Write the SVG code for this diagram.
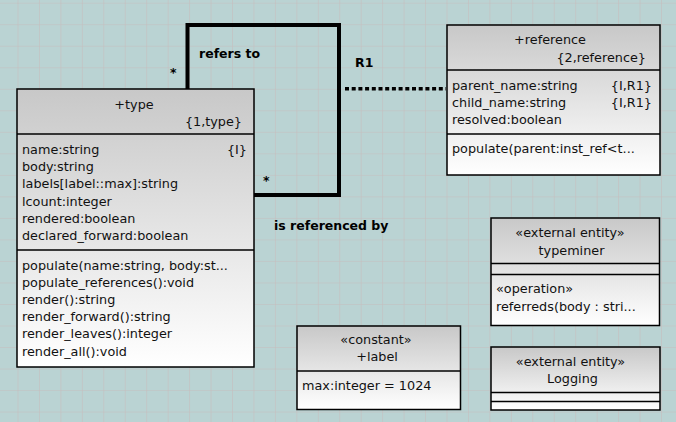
<svg xmlns="http://www.w3.org/2000/svg" width="676" height="422" viewBox="0 0 676 422">
<style>
text{font-family:"DejaVu Sans","Liberation Sans",sans-serif;font-size:12.8px;fill:#111}
.b{font-weight:bold;font-size:12.5px;fill:#000}
.m{text-anchor:middle}
.e{text-anchor:end}
.box{fill:url(#g);stroke:#000;stroke-width:1.5}
.div{stroke:#000;stroke-width:1.5}
.conn{fill:none;stroke:#000;stroke-width:4}
</style>
<defs>
<pattern id="grid" x="17.5" y="2.7" width="21.45" height="21.52" patternUnits="userSpaceOnUse">
<path d="M0 0H21.45M0 0V21.52" fill="none" stroke="#c6bebe" stroke-width="1.2"/>
</pattern>
<linearGradient id="g" x1="0" y1="0" x2="0" y2="1">
<stop offset="0" stop-color="#c8c8c8"/>
<stop offset="1" stop-color="#ffffff"/>
</linearGradient>
</defs>
<rect width="676" height="422" fill="#bad3d3"/>
<rect width="676" height="422" fill="url(#grid)"/>
<g id="connectors">
<polyline class="conn" points="187.5,89 187.5,25 339,25 339,195 254,195"/>
<line x1="345" y1="88.7" x2="446" y2="88.7" stroke="#000" stroke-width="3.5" stroke-dasharray="4 2.7"/>
<text class="b" x="199" y="58">refers to</text>
<text class="b" x="170" y="77">*</text>
<text class="b" x="355" y="67">R1</text>
<text class="b" x="263" y="185">*</text>
<text class="b" x="274" y="230">is referenced by</text>
</g>
<g id="type">
<rect class="box" x="17" y="89" width="237" height="278"/>
<line class="div" x1="17" y1="134" x2="254" y2="134"/>
<line class="div" x1="17" y1="250" x2="254" y2="250"/>
<text class="m" x="134" y="109">+type</text>
<text class="e" x="242" y="126">{1,type}</text>
<text x="22" y="153.5">name:string</text>
<text class="e" x="247" y="153.5">{I}</text>
<text x="22" y="171">body:string</text>
<text x="22" y="188">labels[label::max]:string</text>
<text x="22" y="205.5">lcount:integer</text>
<text x="22" y="223">rendered:boolean</text>
<text x="22" y="240">declared_forward:boolean</text>
<text x="22" y="269.5">populate(name:string, body:st...</text>
<text x="22" y="286.7">populate_references():void</text>
<text x="22" y="304">render():string</text>
<text x="22" y="321">render_forward():string</text>
<text x="22" y="338">render_leaves():integer</text>
<text x="22" y="355.5">render_all():void</text>
</g>
<g id="reference">
<rect class="box" x="447" y="25" width="213" height="150"/>
<line class="div" x1="447" y1="70" x2="660" y2="70"/>
<line class="div" x1="447" y1="134" x2="660" y2="134"/>
<text class="m" x="550" y="44">+reference</text>
<text class="e" x="646" y="62">{2,reference}</text>
<text x="452" y="90">parent_name:string</text>
<text class="e" x="652" y="90">{I,R1}</text>
<text x="452" y="106.5">child_name:string</text>
<text class="e" x="652" y="106.5">{I,R1}</text>
<text x="452" y="124">resolved:boolean</text>
<text x="452" y="152.5">populate(parent:inst_ref&lt;t...</text>
</g>
<g id="typeminer">
<rect class="box" x="491" y="218" width="168.5" height="107.5"/>
<line class="div" x1="491" y1="263.5" x2="659.5" y2="263.5"/>
<line class="div" x1="491" y1="274.5" x2="659.5" y2="274.5"/>
<text class="m" x="570" y="237">«external entity»</text>
<text class="m" x="571.5" y="254.5">typeminer</text>
<text x="496" y="293">«operation»</text>
<text x="496" y="310.5">referreds(body : stri...</text>
</g>
<g id="logging">
<rect class="box" x="491" y="347" width="169" height="63"/>
<line class="div" x1="491" y1="392.5" x2="660" y2="392.5"/>
<line class="div" x1="491" y1="401.5" x2="660" y2="401.5"/>
<text class="m" x="570.5" y="366">«external entity»</text>
<text class="m" x="572.5" y="383">Logging</text>
</g>
<g id="label">
<rect class="box" x="297" y="326" width="163.5" height="83.5"/>
<line class="div" x1="297" y1="371" x2="460.5" y2="371"/>
<text class="m" x="376" y="344">«constant»</text>
<text class="m" x="377" y="361">+label</text>
<text x="302" y="389.5">max:integer = 1024</text>
</g>
</svg>
